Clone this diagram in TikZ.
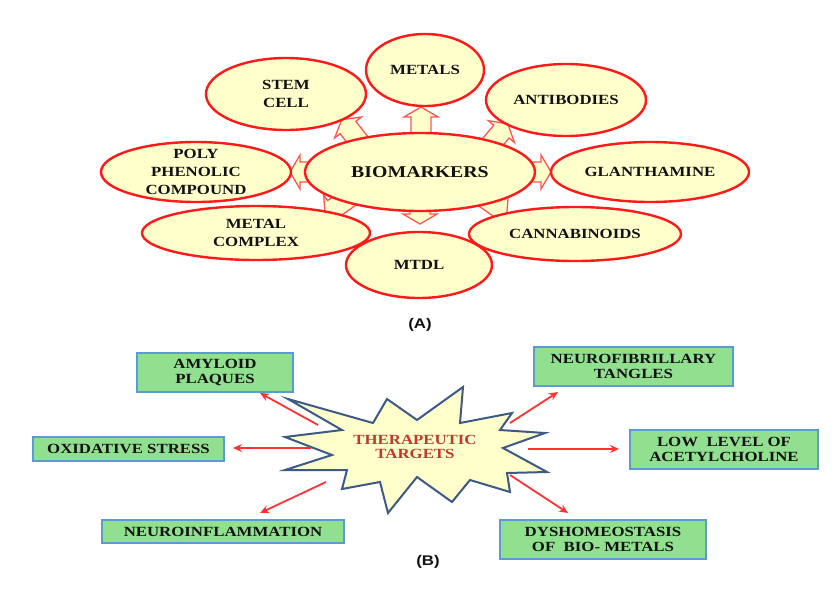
\documentclass[tikz,border=0pt]{standalone}
\usepackage{fontspec}
\newfontfamily\serifb[FakeStretch=1.2]{Liberation Serif}
\newfontfamily\sansb[FakeStretch=1.2]{Liberation Sans}
\usetikzlibrary{shapes.geometric,arrows.meta,calc}
\definecolor{ellfill}{HTML}{FFFFCC}
\definecolor{ellred}{HTML}{FF1A1A}
\definecolor{arrred}{HTML}{FF5555}
\definecolor{boxfill}{HTML}{90E090}
\definecolor{boxline}{HTML}{5B9BD5}
\definecolor{starline}{HTML}{3C5A84}
\definecolor{ttred}{HTML}{C0392B}
\definecolor{linkred}{HTML}{FF3333}
\definecolor{txt}{HTML}{111111}
\tikzset{
  ell/.style={ellipse, draw=ellred, fill=ellfill, line width=2.4pt, inner sep=0pt},
  elltext/.style={align=center, text=txt, inner sep=0pt, font=\serifb\bfseries\fontsize{14}{18}\selectfont},
  blockarr/.style={draw=arrred, fill=ellfill, line width=1.3pt, line join=miter},
  box/.style={draw=boxline, fill=boxfill, line width=1.3pt, inner sep=0pt, align=center, text=txt,
    font=\serifb\bfseries\fontsize{14}{15}\selectfont},
  starsty/.style={draw=starline, fill=ellfill, line width=2pt, line join=miter},
  link/.style={draw=linkred, line width=1.8pt, -{Stealth[length=9pt,width=8pt]}},
  panel/.style={font=\sansb\bfseries\fontsize{14}{14}\selectfont, text=txt, inner sep=0pt}
}
\newcommand\blockarrowshape[4]{%
  \draw[blockarr, shift={(#1,#2)}, rotate=#3]
    (0,-10) -- (#4-10,-10) -- (#4-10,-17) -- (#4,0) -- (#4-10,17) -- (#4-10,10) -- (0,10) -- cycle;}
\begin{document}
\begin{tikzpicture}[x=1pt,y=-1pt]
\useasboundingbox (0,0) rectangle (840,597);
\fill[white] (0,0) rectangle (840,597);
% ---------- (A) ----------
\blockarrowshape{421}{140}{90}{33}
\blockarrowshape{364}{148}{128}{36}
\blockarrowshape{486}{150}{50}{34}
\blockarrowshape{312}{172}{180}{22}
\blockarrowshape{528}{172}{0}{23}
\blockarrowshape{420}{200}{270}{24}
\blockarrowshape{353}{195}{215}{34}
\blockarrowshape{479}{194}{325}{34}
\node[ell, minimum width=160pt, minimum height=72pt] (stem) at (286,94) {};
\node[ell, minimum width=118pt, minimum height=72pt] (metals) at (425,70) {};
\node[ell, minimum width=160pt, minimum height=72pt] (anti) at (566,100) {};
\node[ell, minimum width=190pt, minimum height=60pt] (poly) at (196,172) {};
\node[ell, minimum width=198pt, minimum height=60pt] (glan) at (650,172) {};
\node[ell, minimum width=228pt, minimum height=54pt] (mcx) at (256,233) {};
\node[ell, minimum width=212pt, minimum height=54pt] (cann) at (575,234) {};
\node[ell, minimum width=146pt, minimum height=66pt] (mtdl) at (419,265) {};
\node[ell, minimum width=230pt, minimum height=78pt] (bio) at (420,172) {};
\node[elltext] (stemt) at (stem) {STEM\\CELL};
\node[elltext] (metalst) at (metals) {METALS};
\node[elltext] (antit) at (anti) {ANTIBODIES};
\node[elltext] (polyt) at (poly) {POLY\\PHENOLIC\\COMPOUND};
\node[elltext] (glant) at (glan) {GLANTHAMINE};
\node[elltext] (mcxt) at (mcx) {METAL\\COMPLEX};
\node[elltext] (cannt) at (cann) {CANNABINOIDS};
\node[elltext] (mtdlt) at (mtdl) {MTDL};
\node[elltext, font=\serifb\bfseries\fontsize{16.5}{18}\selectfont] (biot) at (bio) {BIOMARKERS};
\node[panel] (lblA) at (420,325) {(A)};
% ---------- (B) ----------
\draw[starsty] (288,399) -- (373,423) -- (387,399) -- (417,420) -- (463,387) -- (460,423)
  -- (512,413) -- (500,430) -- (545,433) -- (503,448) -- (547,472) -- (507,473)
  -- (510,492) -- (470,480) -- (452,502) -- (417,477) -- (388,513) -- (380,482)
  -- (342,489) -- (347,470) -- (285,470) -- (332,455) -- (285,437) -- (342,430) -- cycle;
\node[align=center, text=ttred, inner sep=0pt, font=\serifb\bfseries\fontsize{14}{14.5}\selectfont]
  (tt) at (415,447) {THERAPEUTIC\\TARGETS};
\node[box, minimum width=156pt, minimum height=39pt] (amy) at (215,372.5) {AMYLOID\\PLAQUES};
\node[box, minimum width=199pt, minimum height=39pt] (nft) at (633.5,366.5) {NEUROFIBRILLARY\\TANGLES};
\node[box, minimum width=191pt, minimum height=24pt] (ox) at (128.5,449) {OXIDATIVE STRESS};
\node[box, minimum width=188pt, minimum height=39pt] (low) at (724,449.5) {LOW\ \ LEVEL OF\\ACETYLCHOLINE};
\node[box, minimum width=242pt, minimum height=23pt] (neu) at (223,531.5) {NEUROINFLAMMATION};
\node[box, minimum width=206pt, minimum height=39pt] (dys) at (603,539.5) {DYSHOMEOSTASIS\\OF\ \ BIO- METALS};
\coordinate (s1) at (318,425); \coordinate (e1) at (260,393);
\coordinate (s2) at (510,423); \coordinate (e2) at (558,392);
\coordinate (s3) at (311,448); \coordinate (e3) at (233,448);
\coordinate (s4) at (528,449); \coordinate (e4) at (619,449);
\coordinate (s5) at (326,482); \coordinate (e5) at (260,513);
\coordinate (s6) at (510,475); \coordinate (e6) at (568,513);
\draw[link] (s1) -- (e1);
\draw[link] (s2) -- (e2);
\draw[link] (s3) -- (e3);
\draw[link] (s4) -- (e4);
\draw[link] (s5) -- (e5);
\draw[link] (s6) -- (e6);
\node[panel] (lblB) at (428,562) {(B)};
\end{tikzpicture}
\end{document}
